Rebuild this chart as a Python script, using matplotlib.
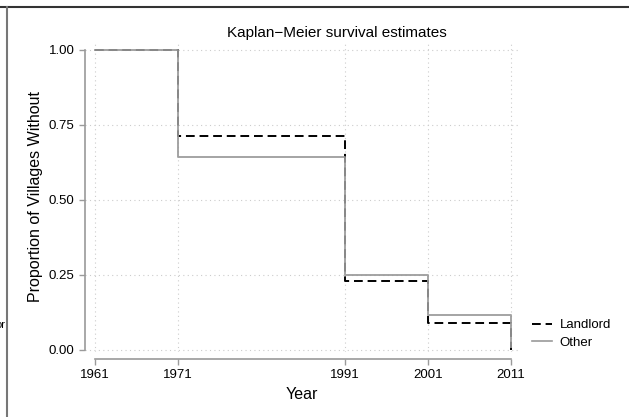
import matplotlib
matplotlib.use('Agg')
import matplotlib.pyplot as plt
from matplotlib.lines import Line2D

plt.rcParams['font.family'] = ['Liberation Sans', 'DejaVu Sans']

# survival estimates at each survey year
years = [1961, 1971, 1991, 2001, 2011]
landlord = [1.00, 0.714, 0.229, 0.091, 0.0]
other = [1.00, 0.643, 0.249, 0.116, 0.01]
yticks = [0.00, 0.25, 0.50, 0.75, 1.00]

W, H = 629, 417
fig = plt.figure(figsize=(W / 100, H / 100), dpi=100)
ax = fig.add_axes([85 / W, 1 - 352 / H, (518 - 85) / W, (352 - 42) / H])

# step curves: value holds until the next year, then drops
ax.step(years, landlord, where='post', color='black', lw=1.4,
        ls=(0, (4.5, 2.5)), zorder=3, label='Landlord')
ax.step(years, other, where='post', color='#9a9a9a', lw=1.4,
        zorder=4, alpha=0.9, label='Other')

ax.set_xlim(1961 - 10 / 8.32, 2011 + 7 / 8.32)
ax.set_ylim(-2 / 300, 1 + 8 / 300)
ax.set_xticks(years)
ax.set_yticks(yticks)
ax.set_yticklabels(['%.2f' % v for v in yticks])
ax.grid(True, ls=(0, (1, 3)), color='#cccccc', lw=0.8)

for s in ['top', 'right']:
    ax.spines[s].set_visible(False)
ax.spines['left'].set_bounds(0, 1)
ax.spines['bottom'].set_bounds(1961, 2011)
ax.spines['bottom'].set_position(('outward', 5))
for s in ['left', 'bottom']:
    ax.spines[s].set_color('#9a9a9a')
    ax.spines[s].set_linewidth(1.2)
ax.tick_params(colors='#9a9a9a', length=4, width=1, labelcolor='black',
               labelsize=9.5)

ax.set_xlabel('Year', fontsize=11.5, labelpad=4)
ax.set_ylabel('Proportion of Villages Without', fontsize=11.5, labelpad=4)
fig.text(337 / W, 1 - 33 / H, 'Kaplan\u2212Meier survival estimates',
         ha='center', va='center', fontsize=11)

handles = [Line2D([], [], color='black', lw=1.4, ls=(0, (4.5, 2.5))),
           Line2D([], [], color='#9a9a9a', lw=1.2)]
fig.legend(handles, ['Landlord', 'Other'], loc='center left',
           bbox_to_anchor=(520 / W, 1 - 334 / H), frameon=False,
           fontsize=9.5, handlelength=1.5, handletextpad=0.6,
           labelspacing=0.4)

# frame edges of the surrounding panel
fig.add_artist(Line2D([0, 1], [1 - 7 / H, 1 - 7 / H], color='#333333', lw=1.5))
fig.add_artist(Line2D([7 / W, 7 / W], [0, 1 - 7 / H], color='#777777', lw=1.5))
fig.text(6 / W, 1 - 325 / H, 'or', ha='right', va='center', fontsize=8)

fig.savefig('out.png', dpi=100)
